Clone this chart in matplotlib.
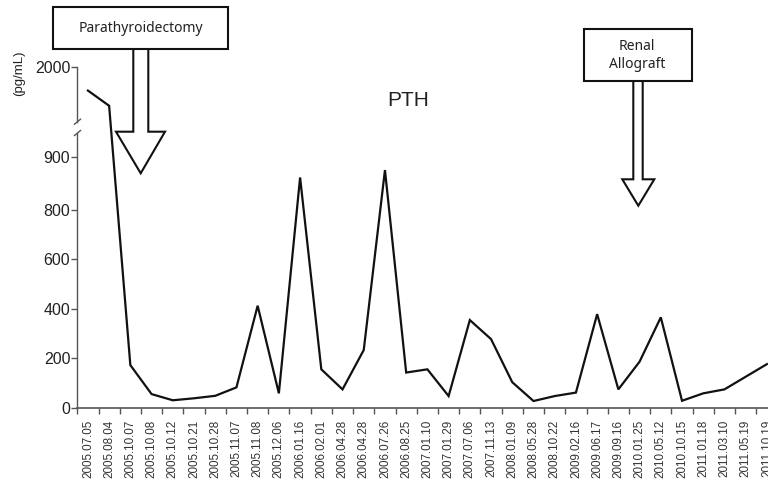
import numpy as np
import matplotlib
matplotlib.use('Agg')
import matplotlib.pyplot as plt
from matplotlib.patches import Polygon, Rectangle
from matplotlib.lines import Line2D

plt.rcParams['font.family'] = ['Liberation Sans', 'DejaVu Sans']

dates = ['2005.07.05', '2005.08.04', '2005.10.07', '2005.10.08', '2005.10.12',
         '2005.10.21', '2005.10.28', '2005.11.07', '2005.11.08', '2005.12.06',
         '2006.01.16', '2006.02.01', '2006.04.28', '2006.04.28', '2006.07.26',
         '2006.08.25', '2007.01.10', '2007.01.29', '2007.07.06', '2007.11.13',
         '2008.01.09', '2008.05.28', '2008.10.22', '2009.02.16', '2009.06.17',
         '2009.09.16', '2010.01.25', '2010.05.12', '2010.10.15', '2011.01.18',
         '2011.03.10', '2011.05.19', '2011.10.19']
pth = [1690, 1490, 172, 55, 30, 38, 48, 82, 412, 58, 930, 155, 74, 233, 960,
       142, 155, 47, 354, 277, 103, 27, 47, 61, 378, 74, 186, 365, 28, 58, 74,
       125, 176]

ytick_pos = [0, 200, 400, 600, 800, 1013, 2000]
ytick_lab = ['0', '200', '400', '600', '800', '900', '2000']

# broken y axis: above BRK values get squeezed
BRK = 1100
SQ = 0.307
def fwd(y):
    y = np.asarray(y, dtype=float)
    return np.where(y <= BRK, y, BRK + (y - BRK) * SQ)
def inv(f):
    f = np.asarray(f, dtype=float)
    return np.where(f <= BRK, f, BRK + (f - BRK) / SQ)

W, H = 768, 486
fig = plt.figure(figsize=(W / 100, H / 100), dpi=100)
ax = fig.add_axes([77.3 / W, 1 - 407.7 / H, 700.2 / W, 340.7 / H])
ax.set_yscale('function', functions=(fwd, inv))

x = np.arange(len(dates)) + 0.5
ax.plot(x, pth, color='#111111', lw=1.6, solid_joinstyle='miter')
ax.set_xlim(0, len(dates))
ax.set_ylim(0, 2000)

ax.set_xticks(x)
ax.set_xticklabels(dates, rotation=90, fontsize=8.4, color='#333333')
ax.set_xticks(np.arange(len(dates) + 1), minor=True)
ax.tick_params(axis='x', which='major', length=0, pad=8.5)
ax.tick_params(axis='x', which='minor', length=4, width=1, color='#555555', direction='out')
ax.set_yticks(ytick_pos)
ax.set_yticklabels(ytick_lab, fontsize=11.5, color='#222222')
ax.yaxis.set_minor_locator(matplotlib.ticker.NullLocator())
ax.tick_params(axis='y', length=4, width=1, color='#555555', pad=1)

for s in ['top', 'right']:
    ax.spines[s].set_visible(False)
ax.spines['bottom'].set_color('#555555')
ax.spines['left'].set_color('#555555')
ax.spines['bottom'].set_linewidth(1.2)
ax.spines['left'].set_linewidth(1.0)
ax.spines['left'].set_bounds(0, 1130)
ax.plot([0, 0], [1275, 2000], transform=ax.get_yaxis_transform(), color='#555555',
        lw=1.0, clip_on=False)

def px(xp, yp):
    return (xp / W, 1 - yp / H)

# break slashes
for yy in (121.7, 133.0):
    fig.add_artist(Line2D([74.5 / W, 80.5 / W], [1 - (yy + 2.5) / H, 1 - (yy - 2.5) / H],
                          color='#555555', lw=1.0))

fig.text(408 / W, 1 - 101 / H, 'PTH', fontsize=15, ha='center', va='center', color='#222222')
fig.text(19 / W, 1 - 73.3 / H, '(pg/mL)', fontsize=9.5, rotation=90, ha='center', va='center',
         color='#222222')

def block_arrow(box, shaft, head, tip, lines, fs):
    bx0, by0, bx1, by1 = box
    sx0, sx1, sy = shaft
    hx0, hx1 = head
    tx, ty = tip
    verts = [px(sx0, by1 - 1), px(sx0, sy), px(hx0, sy), px(tx, ty), px(hx1, sy),
             px(sx1, sy), px(sx1, by1 - 1)]
    fig.add_artist(Polygon(verts, closed=False, facecolor='white', edgecolor='#111111',
                           lw=1.5, zorder=5))
    fig.add_artist(Rectangle(px(bx0, by1), (bx1 - bx0) / W, (by1 - by0) / H,
                             facecolor='white', edgecolor='#111111', lw=1.5, zorder=6))
    for txt, (tx_, ty_) in lines:
        fig.text(tx_ / W, 1 - ty_ / H, txt, fontsize=fs, ha='center', va='center',
                 family=['Noto Sans', 'DejaVu Sans'], color='#222222', zorder=7)

block_arrow((53.3, 7.3, 228.3, 49.3), (133.3, 148.3, 131.7), (116, 165), (140.7, 173.3),
            [('Parathyroidectomy', (141, 29))], 10)
block_arrow((584.3, 29, 691.7, 80.7), (633.3, 642.7, 179.3), (622.3, 654.3), (638.3, 205.7),
            [('Renal', (637, 46)), ('Allograft', (637, 64))], 10)

fig.savefig('out.png', dpi=100)
